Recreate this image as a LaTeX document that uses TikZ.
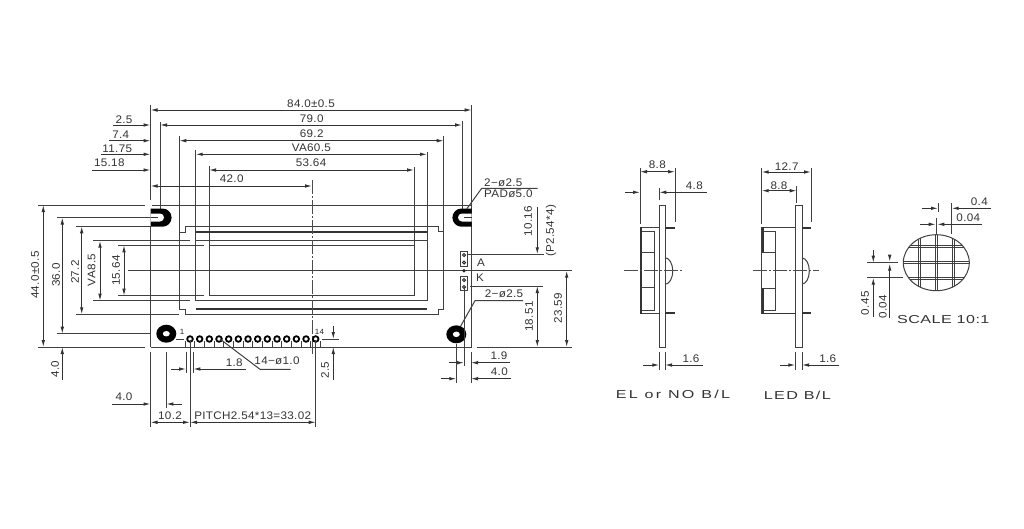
\documentclass[tikz,border=0pt]{standalone}
\usepackage{fontspec}
\setmainfont[LetterSpace=3,FakeStretch=1.06]{Liberation Sans}
\usetikzlibrary{arrows.meta}
\tikzset{
 ln/.style={line width=1pt,color=black!75},
 thk/.style={line width=1.8pt,color=black!80},
 thin/.style={line width=0.7pt,color=black!80},
 cl/.style={line width=0.8pt,color=black!70,dash pattern=on 14pt off 2pt on 2pt off 2pt},
 tp/.style={-{Latex[length=7pt,width=3.6pt]},line width=1pt,color=black!80},
 tw/.style={{Latex[length=7pt,width=3.6pt]}-{Latex[length=7pt,width=3.6pt]},line width=1pt,color=black!80},
 dt/.style={font=\fontsize{11}{12}\selectfont,inner sep=0pt,color=black!80},
 big/.style={font=\fontsize{11.5}{12}\selectfont\addfontfeatures{FakeStretch=1.4,LetterSpace=#1},inner sep=0pt,color=black!80},
 sm/.style={font=\fontsize{7.5}{8}\selectfont,inner sep=0pt,color=black!85},
 vt/.style={dt,rotate=90},
}
\begin{document}
\begin{tikzpicture}[x=1pt,y=-1pt]
\useasboundingbox (0,0) rectangle (1024,528);
\fill[white] (0,0) rectangle (1024,528);
% top dimension lines
\draw[tw] (150.5,110) -- (471.7,110);
\draw[tw] (160,125) -- (462,125);
\draw[tw] (179.3,140.7) -- (443.7,140.7);
\draw[tw] (195.7,154.3) -- (427,154.3);
\draw[tw] (209,170) -- (414,170);
\draw[tw] (150.5,186) -- (312,186);
\draw[tp] (113,125) -- (150.5,125);
\draw[tp] (109,140.7) -- (150.5,140.7);
\draw[tp] (100.7,154.3) -- (150.5,154.3);
\draw[tp] (92,170) -- (150.5,170);
% vertical extensions
\draw[ln] (150.5,105) -- (150.5,200);
\draw[ln] (160,122) -- (160,209);
\draw[ln] (462,121) -- (462,209);
\draw[ln] (179.3,136) -- (179.3,232.7);
\draw[ln] (443.7,136) -- (443.7,231);
\draw[ln] (195.7,150) -- (195.7,300.7);
\draw[ln] (427,152) -- (427,300.7);
\draw[ln] (209,166) -- (209,295.7);
\draw[ln] (414,167) -- (414,295.7);
\draw[ln] (471.7,105) -- (471.7,347);
\draw[ln] (150.5,226) -- (150.5,347);
% horizontal board lines and left extensions
\draw[ln] (38,205) -- (145,205) (152,205) -- (471.7,205);
\draw[ln] (38,347) -- (145,347);
\draw[ln] (150.5,347) -- (471.7,347);
\draw[ln] (476.7,347) -- (572,347);
\draw[ln] (57,217.5) -- (160,217.5);
\draw[ln] (76,226.3) -- (150.5,226.3);
\draw[ln] (93,240.7) -- (190,240.7);
\draw[ln] (118,245.3) -- (204,245.3);
\draw[ln] (57,333.7) -- (150.5,333.7);
\draw[ln] (76,314.3) -- (179,314.3);
\draw[ln] (93,300.7) -- (190,300.7);
\draw[ln] (118,295.7) -- (204,295.7);
% left vertical dims
\draw[tw] (43.3,205) -- (43.3,347);
\draw[tw] (62.3,217.5) -- (62.3,333.7);
\draw[tw] (81.7,226.3) -- (81.7,314.3);
\draw[tw] (100,240.7) -- (100,300.7);
\draw[tw] (124,245.3) -- (124,295.7);
\draw[tp] (62.3,380) -- (62.3,347);
% module frame
\draw[ln] (179.3,232.7) -- (185.5,232.7) -- (185.5,226.3) -- (438,226.3) -- (438,231) -- (443.7,231)
  -- (443.7,309.3) -- (438,309.3) -- (438,314.3) -- (185.5,314.3) -- (185.5,309.3) -- (179.3,309.3) -- cycle;
\draw[thk] (195.7,232.3) -- (427,232.3);
\draw[thk] (195.7,308.6) -- (427,308.6);
\draw[ln] (195.7,240.7) -- (427,240.7) (195.7,300.7) -- (427,300.7);
\draw[ln] (209,245.3) -- (414,245.3) -- (414,295.7) -- (209,295.7) -- cycle;
% center lines
\draw[cl] (312,180) -- (312,356);
\draw[ln] (128,270.7) -- (459,270.7);
\draw[ln] (449,270.7) -- (572,270.7);
% slots
\fill[black] (150.5,208.5) -- (162.5,208.5) arc[start angle=-90,end angle=90,radius=9.1] -- (150.5,226.7) -- cycle;
\fill[white] (150.5,213.5) -- (160,213.5) arc[start angle=-90,end angle=90,radius=4] -- (150.5,221.5) -- cycle;
\draw[thin] (150.5,217.5) -- (158,217.5);
\fill[black] (471.7,208.5) -- (461.5,208.5) arc[start angle=-90,end angle=-270,radius=9.1] -- (471.7,226.7) -- cycle;
\fill[white] (471.7,213.5) -- (462,213.5) arc[start angle=-90,end angle=-270,radius=4] -- (471.7,221.5) -- cycle;
\draw[thin] (471.7,217.5) -- (464,217.5);
% bottom holes
\fill[black] (166.3,333.7) ellipse[x radius=10,y radius=9];
\fill[white] (166.3,333.7) ellipse[x radius=3.5,y radius=2.7];
\fill[black] (456.3,334.3) ellipse[x radius=10,y radius=9];
\fill[white] (456.3,334.3) ellipse[x radius=3.5,y radius=2.7];
% pins
\foreach \i in {0,...,13}{
  \pgfmathsetmacro{\px}{190+9.67*\i}
  \draw[ln] (\px-4.8,347) -- (\px-4.8,341) (\px+4.8,347) -- (\px+4.8,341);
  \draw[line width=1.8pt,black] (\px,339) circle[radius=2.8];
}
\node[sm] (p1) at (182,332) {1};
\node[sm] (p14) at (319.5,332) {14};
\draw[ln] (176,339) -- (184,339);
\draw[ln] (322,339) -- (339,339);
% connector pads
\draw[ln,fill=white] (460.3,251) rectangle (467.7,266.3);
\draw[ln,fill=white] (460.3,276) rectangle (467.7,290.7);
\foreach \yy in {255,262.5,280,287}{\draw[line width=0.9pt,black!85] (464,\yy) circle[radius=1.6];}
\fill[black!85] (464,270.7) circle[radius=1.9];
\draw[ln] (464,287) -- (464,366);
\node[dt] (lA) at (481,262.3) {A};
\node[dt] (lK) at (480,277.7) {K};
% right dims
\draw[ln] (467,254.3) -- (544,254.3);
\draw[tp] (537.3,206.7) -- (537.3,254.3);
\draw[ln] (470,286) -- (543,286);
\draw[tw] (537.3,286) -- (537.3,347);
\draw[tw] (566.7,270.7) -- (566.7,347);
% leaders
\draw[ln] (466.7,209) -- (481.7,188.3) -- (537.7,188.3);
\draw[ln] (460.7,326) -- (475,300.7) -- (523,300.7);
\draw[ln] (220,339) -- (260,369.3) -- (290.7,369.3);
% bottom dims
\draw[ln] (150.5,352) -- (150.5,427);
\draw[ln] (166.3,352) -- (166.3,408);
\draw[ln] (190,340) -- (190,427);
\draw[ln] (315.7,340) -- (315.7,427);
\draw[tp] (112,404) -- (150.5,404);
\draw[tp] (181.7,404) -- (166.3,404);
\draw[tw] (150.5,422.3) -- (190,422.3);
\draw[tw] (190,422.3) -- (315.7,422.3);
\draw[ln] (186,351.7) -- (186,373);
\draw[ln] (193.3,351.7) -- (193.3,373);
\draw[tp] (171,369) -- (186,369);
\draw[tp] (245.7,369) -- (193.3,369);
\draw[tp] (333.3,326) -- (333.3,339);
\draw[tp] (333.3,380) -- (333.3,347);
\draw[ln] (456.3,344) -- (456.3,383);
\draw[ln] (471,352) -- (471,383);
\draw[tp] (449,362.7) -- (464,362.7);
\draw[tp] (510,362.7) -- (471,362.7);
\draw[tp] (441,378.7) -- (456.3,378.7);
\draw[tp] (511,378.7) -- (471,378.7);
% texts
\node[dt] (t1) at (311,103.3) {84.0±0.5};
\node[dt] (t2) at (311.7,118.3) {79.0};
\node[dt] (t3) at (311.7,133.7) {69.2};
\node[dt] (t4) at (311.3,147.3) {VA60.5};
\node[dt] (t5) at (311,163) {53.64};
\node[dt] (t6) at (231.7,178.7) {42.0};
\node[dt] (t7) at (124,119.3) {2.5};
\node[dt] (t8) at (120.7,134.3) {7.4};
\node[dt] (t9) at (117.3,148.7) {11.75};
\node[dt] (t10) at (109.3,163) {15.18};
\node[dt,anchor=west] (t11) at (484,183) {2−ø2.5};
\node[dt,anchor=west] (t12) at (484,193.8) {PADø5.0};
\node[vt] (t13) at (528,221) {10.16};
\node[vt] (t14) at (551,231) {(P2.54*4)};
\node[vt] (t15) at (558,308) {23.59};
\node[vt] (t16) at (529,316.7) {18.51};
\node[dt] (t17) at (504,294) {2−ø2.5};
\node[dt] (t18) at (499,355.3) {1.9};
\node[dt] (t19) at (499.3,372) {4.0};
\node[vt] (t20) at (325,370) {2.5};
\node[dt] (t21) at (277,360.7) {14−ø1.0};
\node[dt] (t22) at (234.3,362.7) {1.8};
\node[dt] (t23) at (124,397) {4.0};
\node[dt] (t24) at (170,415.7) {10.2};
\node[dt] (t25) at (252.7,415.7) {PITCH2.54*13=33.02};
\node[vt] (t26) at (55,369) {4.0};
\node[vt] (t27) at (56,275) {36.0};
\node[vt] (t28) at (75,272) {27.2};
\node[vt] (t29) at (91.7,270) {VA8.5};
\node[vt] (t30) at (116,270.7) {15.64};
\node[vt] (t31) at (35,275) {44.0±0.5};
% side view 1
\draw[ln] (659.3,205) rectangle (665,347);
\draw[ln] (640,227.3) -- (659.3,227.3);
\draw[thk] (665,227.8) -- (675,227.8);
\draw[thk] (665,313.2) -- (675,313.2);
\draw[ln] (640,313.7) -- (659.3,313.7);
\draw[thk] (641,227.3) -- (641,313.7);
\draw[ln] (641.5,231) -- (654.7,231) -- (654.7,310) -- (641.5,310);
\draw[ln] (641,252.7) -- (654.7,252.7) (641,287.7) -- (654.7,287.7);
\draw[ln] (665,257.7) arc[start angle=-90,end angle=90,x radius=7.7,y radius=13.3];
\draw[cl] (624,270.7) -- (682,270.7);
\draw[tw] (640,171.7) -- (675,171.7);
\draw[ln] (640,168) -- (640,224) (675,168) -- (675,221.7);
\node[dt] (s1a) at (657.3,165) {8.8};
\draw[tp] (625,192.3) -- (640,192.3);
\draw[tp] (706.7,192.3) -- (659.3,192.3);
\draw[ln] (659.3,188) -- (659.3,200);
\node[dt] (s1b) at (694.3,186) {4.8};
\draw[ln] (659.3,352) -- (659.3,370) (665,352) -- (665,370);
\draw[tp] (643,365) -- (659.3,365);
\draw[tp] (702.7,365) -- (665,365);
\node[dt] (s1c) at (691,358.7) {1.6};
\node[big=20] (s1d) at (673,394.3) {EL or NO B/L};
% side view 2
\draw[ln] (795.3,205) rectangle (802,347);
\draw[ln] (761.7,227.3) -- (795.3,227.3);
\draw[thk] (802,227.8) -- (811,227.8);
\draw[thk] (802,313.2) -- (811,313.2);
\draw[thk] (763,313.4) -- (795.3,313.4);
\draw[ln] (761.7,227.3) -- (761.7,313.7);
\draw[thk] (762.7,227.3) -- (762.7,252.7) (762.7,288) -- (762.7,313.7);
\draw[ln] (763,231) -- (775.7,231) -- (775.7,310) -- (763,310);
\draw[ln] (763,252.7) -- (775.7,252.7) (763,288) -- (775.7,288);
\draw[ln] (802,258) arc[start angle=-90,end angle=90,x radius=7.3,y radius=13];
\draw[cl] (753,270.7) -- (819,270.7);
\draw[tw] (761.7,172) -- (811,172);
\draw[ln] (761.7,168) -- (761.7,224) (811,168) -- (811,222);
\node[dt] (s2a) at (786.7,167) {12.7};
\draw[tw] (761.7,190.7) -- (796.7,190.7);
\draw[ln] (796.7,186) -- (796.7,203);
\node[dt] (s2b) at (779,185.7) {8.8};
\draw[ln] (795.3,352) -- (795.3,370) (802,352) -- (802,370);
\draw[tp] (780,365) -- (795.3,365);
\draw[tp] (839.3,365) -- (802,365);
\node[dt] (s2c) at (827.7,358.7) {1.6};
\node[big=12] (s2d) at (797.3,395) {LED B/L};
% detail
\begin{scope}
\clip (936.3,262.7) ellipse[x radius=33,y radius=28];
\foreach \gx in {919.3,936.3,953.3}{\draw[ln] (\gx-1,230) -- (\gx-1,295) (\gx+1,230) -- (\gx+1,295);}
\foreach \gy in {246.7,262.7,278.3}{\draw[ln] (900,\gy-0.8) -- (975,\gy-0.8) (900,\gy+0.8) -- (975,\gy+0.8);}
\end{scope}
\draw[ln] (936.3,262.7) ellipse[x radius=33,y radius=28];
\draw[tp] (921.7,208.3) -- (938,208.3);
\draw[tp] (991,208.3) -- (951.7,208.3);
\draw[ln] (938,203) -- (938,212) (951.7,203) -- (951.7,234);
\node[dt] (d1) at (979.3,201.7) {0.4};
\draw[tp] (920,224.3) -- (935.7,224.3);
\draw[tp] (982,224.3) -- (937.3,224.3);
\draw[ln] (936.5,218) -- (936.5,235);
\node[dt] (d2) at (968.3,217.7) {0.04};
\draw[ln] (867.3,262.7) -- (898,262.7) (867.3,277.7) -- (903.3,277.7);
\draw[tp] (873.3,250) -- (873.3,262.7);
\draw[tp] (873.3,316.7) -- (873.3,277.7);
\draw[tp] (889.7,255) -- (889.7,261.7);
\draw[tp] (889.7,318) -- (889.7,263.7);
\node[vt] (d3) at (865,303.3) {0.45};
\node[vt] (d4) at (882.7,306.7) {0.04};
\node[big=4] (d5) at (943.3,319.3) {SCALE 10:1};
\end{tikzpicture}
\end{document}
